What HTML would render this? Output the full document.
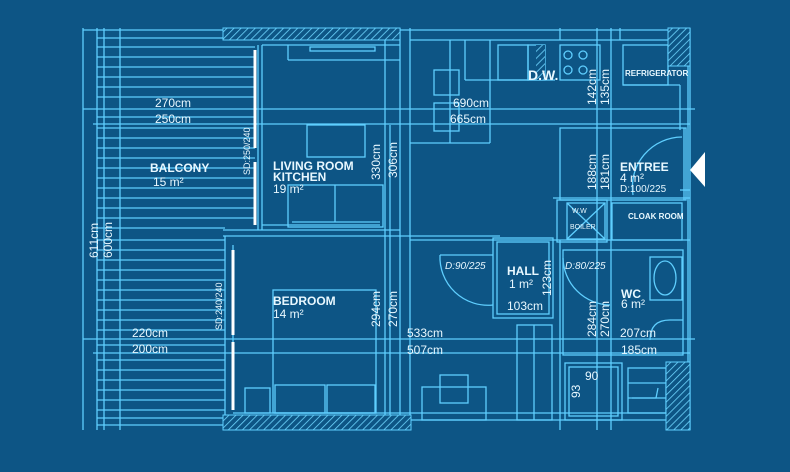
<!DOCTYPE html>
<html><head><meta charset="utf-8"><style>
html,body{margin:0;padding:0;background:#0d5585;}
svg{display:block}
text{font-family:"Liberation Sans",sans-serif;fill:#e8f8ff;}
</style></head><body>
<svg width="790" height="472" viewBox="0 0 790 472" xmlns="http://www.w3.org/2000/svg">
<defs>
<pattern id="h" width="5" height="5" patternUnits="userSpaceOnUse" patternTransform="rotate(45)">
<rect width="5" height="5" fill="#0d5585"/><line x1="0" y1="0" x2="0" y2="5" stroke="#6fd6ff" stroke-width="1.6"/>
</pattern>
</defs>
<rect width="790" height="472" fill="#0d5585"/>
<g stroke="#5fcfff" stroke-width="1.3" fill="none">
<!-- outer -->
<line x1="83" y1="28" x2="83" y2="430"/>
<line x1="97" y1="28" x2="97" y2="430"/>
<line x1="104" y1="28" x2="104" y2="430"/>
<line x1="120" y1="28" x2="120" y2="430"/>
<line x1="83" y1="30" x2="690" y2="30"/>
<line x1="97" y1="38" x2="223" y2="38"/>
<line x1="97" y1="425" x2="223" y2="425"/>
<line x1="97" y1="418" x2="223" y2="418"/>
<!-- balcony slats -->
<g>
<line x1="97" y1="47" x2="255" y2="47"/><line x1="97" y1="57" x2="255" y2="57"/><line x1="97" y1="67" x2="255" y2="67"/><line x1="97" y1="77" x2="255" y2="77"/><line x1="97" y1="87" x2="255" y2="87"/><line x1="97" y1="97" x2="255" y2="97"/><line x1="97" y1="117" x2="255" y2="117"/><line x1="97" y1="128" x2="255" y2="128"/><line x1="97" y1="138" x2="255" y2="138"/><line x1="97" y1="148" x2="255" y2="148"/><line x1="97" y1="158" x2="255" y2="158"/><line x1="97" y1="168" x2="255" y2="168"/><line x1="97" y1="178" x2="255" y2="178"/><line x1="97" y1="188" x2="255" y2="188"/><line x1="97" y1="198" x2="255" y2="198"/><line x1="97" y1="208" x2="255" y2="208"/><line x1="97" y1="218" x2="255" y2="218"/><line x1="97" y1="228" x2="225" y2="228"/><line x1="97" y1="240" x2="225" y2="240"/><line x1="97" y1="250" x2="225" y2="250"/><line x1="97" y1="260" x2="225" y2="260"/><line x1="97" y1="270" x2="225" y2="270"/><line x1="97" y1="280" x2="225" y2="280"/><line x1="97" y1="290" x2="225" y2="290"/><line x1="97" y1="300" x2="225" y2="300"/><line x1="97" y1="310" x2="225" y2="310"/><line x1="97" y1="320" x2="225" y2="320"/><line x1="97" y1="330" x2="225" y2="330"/><line x1="97" y1="345" x2="225" y2="345"/><line x1="97" y1="360" x2="225" y2="360"/><line x1="97" y1="370" x2="225" y2="370"/><line x1="97" y1="380" x2="225" y2="380"/><line x1="97" y1="390" x2="225" y2="390"/><line x1="97" y1="400" x2="225" y2="400"/><line x1="97" y1="410" x2="225" y2="410"/>
</g>
<!-- dimension lines -->
<line x1="83" y1="109" x2="695" y2="109"/>
<line x1="93" y1="124" x2="690" y2="124"/>
<line x1="83" y1="339" x2="695" y2="339"/>
<line x1="93" y1="353" x2="690" y2="353"/>
<!-- walls interior -->
<line x1="258" y1="45" x2="258" y2="230"/>
<line x1="262" y1="45" x2="262" y2="230"/>
<line x1="262" y1="45" x2="400" y2="45"/>
<line x1="288" y1="45" x2="288" y2="60"/><line x1="288" y1="60" x2="400" y2="60"/>
<rect x="310" y="47" width="65" height="4"/>
<line x1="223" y1="230" x2="400" y2="230"/>
<line x1="223" y1="236" x2="500" y2="236"/>
<line x1="225" y1="236" x2="225" y2="415"/>
<line x1="233" y1="245" x2="233" y2="410"/>
<line x1="262" y1="225" x2="380" y2="225"/>
<rect x="307" y="125" width="58" height="32"/>
<rect x="288" y="185" width="95" height="42"/>
<line x1="335" y1="185" x2="335" y2="222"/>
<line x1="292" y1="222" x2="380" y2="222"/>
<line x1="385" y1="28" x2="385" y2="420"/>
<line x1="390" y1="125" x2="390" y2="420"/>
<line x1="400" y1="28" x2="400" y2="430"/>
<line x1="410" y1="28" x2="410" y2="430"/>
<!-- bedroom -->
<rect x="273" y="290" width="103" height="123"/>
<rect x="275" y="385" width="50" height="28"/>
<rect x="327" y="385" width="48" height="28"/>
<rect x="245" y="388" width="25" height="25"/>
<line x1="233" y1="413" x2="690" y2="413"/>
<!-- kitchen top -->
<line x1="410" y1="40" x2="690" y2="40"/>
<line x1="450" y1="40" x2="450" y2="143"/>
<line x1="465" y1="40" x2="465" y2="80"/><line x1="465" y1="80" x2="555" y2="80"/>
<line x1="490" y1="40" x2="490" y2="143"/>
<rect x="498" y="45" width="30" height="35"/><rect x="528" y="45" width="17" height="35"/>
<rect x="560" y="45" width="40" height="35"/>
<circle cx="568" cy="55" r="4"/><circle cx="583" cy="55" r="4"/><circle cx="568" cy="70" r="4"/><circle cx="583" cy="70" r="4"/>
<rect x="623" y="45" width="45" height="40"/>
<line x1="623" y1="85" x2="680" y2="85"/><line x1="680" y1="85" x2="680" y2="130"/>
<rect x="434" y="70" width="25" height="25"/>
<rect x="434" y="103" width="25" height="28"/>
<line x1="410" y1="143" x2="490" y2="143"/>
<line x1="560" y1="28" x2="560" y2="40"/><line x1="620" y1="28" x2="620" y2="40"/>
<line x1="597" y1="28" x2="597" y2="430"/>
<line x1="611" y1="28" x2="611" y2="430"/>
<!-- entree -->
<rect x="560" y="128" width="126" height="72"/>
<line x1="684" y1="128" x2="684" y2="200"/>
<path d="M682,137 A50,50 0 0 0 633,195"/>
<line x1="680" y1="190" x2="690" y2="190"/>
<line x1="553" y1="198" x2="690" y2="198"/>
<rect x="557" y="200" width="50" height="42"/>
<rect x="567" y="203" width="38" height="36"/>
<line x1="567" y1="203" x2="605" y2="239"/><line x1="605" y1="203" x2="567" y2="239"/>
<rect x="612" y="203" width="70" height="37"/>
<line x1="410" y1="240" x2="690" y2="240"/>
<!-- hall -->
<rect x="493" y="238" width="60" height="80"/>
<rect x="497" y="242" width="52" height="72"/>
<path d="M440,255 A48,48 0 0 0 493,305"/>
<line x1="440" y1="255" x2="493" y2="255"/>
<path d="M563,258 A48,48 0 0 0 610,305"/>
<rect x="517" y="325" width="35" height="95"/>
<line x1="534" y1="325" x2="534" y2="420"/>
<!-- wc -->
<rect x="563" y="250" width="120" height="105"/>
<rect x="650" y="257" width="32" height="43"/>
<ellipse cx="665" cy="278" rx="11" ry="17"/>
<path d="M650,340 Q650,320 670,320 L683,320"/>
<line x1="560" y1="240" x2="560" y2="430"/>
<rect x="565" y="363" width="57" height="57"/>
<rect x="569" y="367" width="49" height="49"/>
<rect x="628" y="368" width="38" height="45"/>
<line x1="628" y1="383" x2="666" y2="383"/><line x1="628" y1="398" x2="666" y2="398"/>
<path d="M632,398 L656,398 L658,388"/>
<!-- bottom area -->
<rect x="422" y="387" width="64" height="33"/>
<rect x="440" y="375" width="28" height="28"/>
<line x1="410" y1="420" x2="690" y2="420"/>
<line x1="688" y1="28" x2="688" y2="430"/>
<line x1="690" y1="28" x2="690" y2="430"/>
</g>
<!-- thick white doors -->
<line x1="255" y1="50" x2="255" y2="148" stroke="#fff" stroke-width="3"/>
<line x1="255" y1="162" x2="255" y2="225" stroke="#fff" stroke-width="3"/>
<line x1="233" y1="250" x2="233" y2="335" stroke="#fff" stroke-width="3"/>
<line x1="233" y1="342" x2="233" y2="410" stroke="#fff" stroke-width="3"/>
<!-- hatches -->
<rect x="223" y="28" width="177" height="12" fill="url(#h)" stroke="#5fcfff"/>
<rect x="223" y="415" width="188" height="15" fill="url(#h)" stroke="#5fcfff"/>
<rect x="668" y="28" width="22" height="38" fill="url(#h)" stroke="#5fcfff"/>
<rect x="666" y="362" width="24" height="68" fill="url(#h)" stroke="#5fcfff"/>
<rect x="536" y="45" width="9" height="35" fill="url(#h)"/>
<!-- entry arrow -->
<polygon points="705,152 705,187 690,170" fill="#fff"/>
<!-- text -->
<g font-size="12">
<text x="155" y="107">270cm</text><text x="155" y="123">250cm</text>
<text x="150" y="172" font-weight="bold">BALCONY</text><text x="153" y="186">15 m²</text>
<text x="273" y="170" font-weight="bold">LIVING ROOM</text><text x="273" y="181" font-weight="bold">KITCHEN</text><text x="273" y="193">19 m²</text>
<text x="453" y="107">690cm</text><text x="450" y="123">665cm</text>
<text x="528" y="80" font-weight="bold" font-size="14">D.W.</text>
<text x="625" y="76" font-size="8" font-weight="bold">REFRIGERATOR</text>
<text x="620" y="171" font-weight="bold">ENTREE</text><text x="620" y="182">4 m²</text><text x="620" y="192" font-size="10">D:100/225</text>
<text x="628" y="219" font-size="8" font-weight="bold">CLOAK ROOM</text>
<text x="572" y="213" font-size="7">W.W</text><text x="570" y="229" font-size="7">BOILER</text>
<text x="507" y="275" font-weight="bold">HALL</text><text x="509" y="288">1 m²</text>
<text x="507" y="310">103cm</text>
<text x="445" y="269" font-size="10" font-style="italic">D:90/225</text>
<text x="565" y="269" font-size="10" font-style="italic">D:80/225</text>
<text x="621" y="298" font-weight="bold">WC</text><text x="621" y="308">6 m²</text>
<text x="620" y="337">207cm</text><text x="621" y="354">185cm</text>
<text x="273" y="305" font-weight="bold">BEDROOM</text><text x="273" y="318">14 m²</text>
<text x="132" y="337">220cm</text><text x="132" y="353">200cm</text>
<text x="407" y="337">533cm</text><text x="407" y="354">507cm</text>
<text x="585" y="380">90</text>
</g>
<g font-size="12">
<text transform="translate(380,180) rotate(-90)">330cm</text>
<text transform="translate(397,178) rotate(-90)">306cm</text>
<text transform="translate(596,105) rotate(-90)">142cm</text>
<text transform="translate(609,105) rotate(-90)">135cm</text>
<text transform="translate(596,190) rotate(-90)">188cm</text>
<text transform="translate(609,190) rotate(-90)">181cm</text>
<text transform="translate(551,296) rotate(-90)">123cm</text>
<text transform="translate(596,337) rotate(-90)">284cm</text>
<text transform="translate(609,337) rotate(-90)">270cm</text>
<text transform="translate(380,327) rotate(-90)">294cm</text>
<text transform="translate(397,327) rotate(-90)">270cm</text>
<text transform="translate(98,258) rotate(-90)">611cm</text>
<text transform="translate(112,258) rotate(-90)">600cm</text>
<text transform="translate(580,398) rotate(-90)">93</text>
<text transform="translate(250,175) rotate(-90)" font-size="9">SD:250/240</text>
<text transform="translate(222,330) rotate(-90)" font-size="9">SD:240/240</text>
</g>
</svg>
</body></html>
